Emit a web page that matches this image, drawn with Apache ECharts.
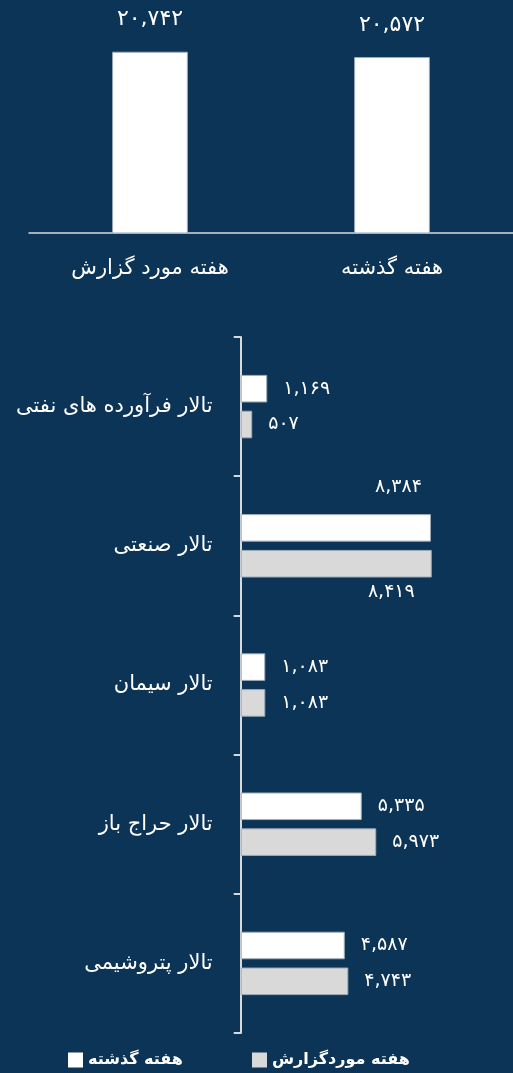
<!DOCTYPE html>
<html lang="fa">
<head>
<meta charset="utf-8">
<title>مقایسه ارزش معاملات</title>
<script src="https://cdn.jsdelivr.net/npm/echarts@6/dist/echarts.min.js"></script>
<style>
  html, body { margin: 0; padding: 0; background: #0c3457; }
  #chart { width: 513px; height: 1073px; }
</style>
</head>
<body>
<div id="chart"></div>
<script>
// Weekly totals (top chart)
const totalCategories = ['هفته مورد گزارش', 'هفته گذشته'];
const totalValues = [20742, 20572];

// Per-hall breakdown (bottom chart)
const hallCategories = [
  'تالار فرآورده های نفتی',
  'تالار صنعتی',
  'تالار سیمان',
  'تالار حراج باز',
  'تالار پتروشیمی'
];
const lastWeekName = 'هفته گذشته';
const reportWeekName = 'هفته موردگزارش';
const lastWeekValues = [1169, 8384, 1083, 5335, 4587];
const reportWeekValues = [507, 8419, 1083, 5973, 4743];

const FONT = 'DejaVu Sans';
const BG = '#0c3457';
const AXIS = '#d9d9d9';
const WHITE = '#ffffff';
const GRAY = '#d9d9d9';
const EDGE = '#9fabb8';

// Format a number with thousands commas and Persian digits
const faDigits = '۰۱۲۳۴۵۶۷۸۹';
function fa(n) {
  return n.toLocaleString('en-US').replace(/[0-9]/g, d => faDigits[+d]);
}

// The long bars of the second hall carry their labels above / below the bar
const wideIndex = 1;
function hallData(values, labelAbove) {
  return values.map((v, i) => {
    if (i !== wideIndex) return v;
    return {
      value: v,
      label: labelAbove
        ? { position: ['100%', 0], offset: [-9, -27], align: 'right', verticalAlign: 'middle' }
        : { position: ['100%', '100%'], offset: [-17, 15], align: 'right', verticalAlign: 'middle' }
    };
  });
}

const chart = echarts.init(document.getElementById('chart'), null, { renderer: 'canvas' });

const legendText = { color: WHITE, fontSize: 16, fontWeight: 'bold', fontFamily: FONT };

chart.setOption({
  backgroundColor: BG,
  animation: false,
  textStyle: { fontFamily: FONT },
  grid: [
    { left: 29, top: 12, width: 486, height: 221 },
    { left: 240.7, top: 337, width: 277, height: 696 }
  ],
  legend: [
    {
      data: [lastWeekName],
      left: 63, top: 1047,
      itemWidth: 15, itemHeight: 15,
      icon: 'rect',
      textStyle: legendText,
      itemStyle: { borderWidth: 0 }
    },
    {
      data: [reportWeekName],
      left: 247, top: 1047,
      itemWidth: 15, itemHeight: 15,
      icon: 'rect',
      textStyle: legendText,
      itemStyle: { borderWidth: 0 }
    }
  ],
  xAxis: [
    {
      gridIndex: 0,
      type: 'category',
      data: totalCategories,
      axisLine: { lineStyle: { color: AXIS, width: 1.5 } },
      axisTick: { show: false },
      axisLabel: { color: WHITE, fontSize: 21, margin: 25, fontFamily: FONT }
    },
    {
      gridIndex: 1,
      type: 'value',
      min: 0, max: 12000,
      show: false,
      splitLine: { show: false }
    }
  ],
  yAxis: [
    {
      gridIndex: 0,
      type: 'value',
      min: 15000, max: 22000,
      show: false,
      splitLine: { show: false }
    },
    {
      gridIndex: 1,
      type: 'category',
      inverse: true,
      data: hallCategories,
      axisLine: { lineStyle: { color: AXIS, width: 2 } },
      axisTick: { show: true, length: 7, lineStyle: { color: AXIS, width: 2 } },
      axisLabel: { color: WHITE, fontSize: 21, margin: 28, fontFamily: FONT }
    }
  ],
  series: [
    {
      type: 'bar',
      xAxisIndex: 0, yAxisIndex: 0,
      data: totalValues,
      barWidth: '31.3%',
      itemStyle: { color: WHITE, borderColor: EDGE, borderWidth: 1 },
      label: {
        show: true, position: 'top', distance: 21,
        color: WHITE, fontSize: 22, fontFamily: FONT,
        formatter: p => fa(p.value)
      }
    },
    {
      name: lastWeekName,
      type: 'bar',
      xAxisIndex: 1, yAxisIndex: 1,
      data: hallData(lastWeekValues, true),
      barWidth: '19.8%',
      barGap: '30%',
      itemStyle: { color: WHITE, borderColor: EDGE, borderWidth: 1 },
      label: {
        show: true, position: 'right', distance: 16,
        color: WHITE, fontSize: 19, fontFamily: FONT,
        formatter: p => fa(p.value)
      }
    },
    {
      name: reportWeekName,
      type: 'bar',
      xAxisIndex: 1, yAxisIndex: 1,
      data: hallData(reportWeekValues, false),
      barWidth: '19.8%',
      barGap: '30%',
      itemStyle: { color: GRAY, borderColor: EDGE, borderWidth: 1 },
      label: {
        show: true, position: 'right', distance: 16,
        color: WHITE, fontSize: 19, fontFamily: FONT,
        formatter: p => fa(p.value)
      }
    }
  ]
});
</script>
</body>
</html>
